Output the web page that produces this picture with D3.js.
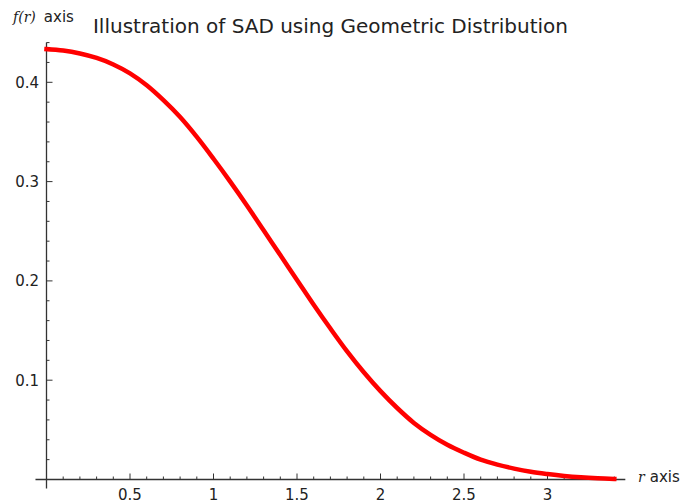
<!DOCTYPE html>
<html>
<head>
<meta charset="utf-8">
<script src="https://cdn.jsdelivr.net/npm/d3@7"></script>
<style>
  body { margin: 0; background: #fff; }
  svg text { font-family: "DejaVu Sans", sans-serif; fill: #222; }
</style>
</head>
<body>
<div id="chart"></div>
<script>
// values
var rValues = [0, 0.1, 0.2, 0.3, 0.4, 0.5, 0.6, 0.7, 0.8, 0.9, 1.0,
    1.1, 1.2, 1.3, 1.4, 1.5, 1.6, 1.7, 1.8, 1.9, 2.0,
    2.1, 2.2, 2.3, 2.4, 2.5, 2.6, 2.7, 2.8, 2.9, 3.0,
    3.1, 3.2, 3.3, 3.4];
var fValues = [0.4335, 0.432, 0.429, 0.4245, 0.418, 0.409, 0.397, 0.382, 0.365, 0.345, 0.323,
    0.300, 0.276, 0.251, 0.226, 0.201, 0.176, 0.152, 0.129, 0.108, 0.089,
    0.072, 0.057, 0.045, 0.035, 0.027, 0.020, 0.015, 0.011, 0.0078, 0.0055,
    0.0036, 0.0022, 0.0012, 0.0005];
var xTickValues = [0.5, 1, 1.5, 2, 2.5, 3];
var xTickLabels = ["0.5", "1", "1.5", "2", "2.5", "3"];
var yTickValues = [0.1, 0.2, 0.3, 0.4];
var yTickLabels = ["0.1", "0.2", "0.3", "0.4"];
var titleText = "Illustration of SAD using Geometric Distribution";

(function(){
    'use strict';
    var width = 684, height = 503;

    var svg = d3.select("#chart").append("svg")
        .attr("width", width)
        .attr("height", height);

    /* scales: 1 unit of r is ~167px, 0.1 of f is ~99px */
    var x = d3.scaleLinear().domain([0, 3.5]).range([46.5, 46.5 + 3.5 * 167]);
    var y = d3.scaleLinear().domain([0, 0.44]).range([479.5, 479.5 - 0.44 * 993]);

    var axisColor = "#333";

    // x axis line (sage style, runs a bit past the origin)
    svg.append("line")
        .attr("x1", x(-0.066)).attr("x2", x(3.466))
        .attr("y1", y(0)).attr("y2", y(0))
        .attr("stroke", axisColor).attr("stroke-width", 1.3);

    // y axis line
    svg.append("line")
        .attr("x1", x(0)).attr("x2", x(0))
        .attr("y1", y(-0.009)).attr("y2", y(0.44))
        .attr("stroke", axisColor).attr("stroke-width", 1.3);

    var xMinor = d3.range(1, 35).map(function(i) { return i / 10; })
        .filter(function(v) { return Math.abs(v * 2 - Math.round(v * 2)) > 1e-6; });
    var yMinor = d3.range(1, 23).map(function(i) { return i / 50; })
        .filter(function(v) { return Math.abs(v * 10 - Math.round(v * 10)) > 1e-6; });

    svg.append("g").selectAll("line").data(xMinor).enter().append("line")
        .attr("x1", function(d) { return x(d); })
        .attr("x2", function(d) { return x(d); })
        .attr("y1", y(0)).attr("y2", y(0) - 3)
        .attr("stroke", axisColor).attr("stroke-width", 1);

    svg.append("g").selectAll("line").data(xTickValues).enter().append("line")
        .attr("x1", function(d) { return x(d); })
        .attr("x2", function(d) { return x(d); })
        .attr("y1", y(0)).attr("y2", y(0) - 6)
        .attr("stroke", axisColor).attr("stroke-width", 1);

    svg.append("g").selectAll("line").data(yMinor).enter().append("line")
        .attr("x1", x(0)).attr("x2", x(0) + 3)
        .attr("y1", function(d) { return y(d); })
        .attr("y2", function(d) { return y(d); })
        .attr("stroke", axisColor).attr("stroke-width", 1);

    svg.append("g").selectAll("line").data(yTickValues).enter().append("line")
        .attr("x1", x(0)).attr("x2", x(0) + 6)
        .attr("y1", function(d) { return y(d); })
        .attr("y2", function(d) { return y(d); })
        .attr("stroke", axisColor).attr("stroke-width", 1);

    // tick labels
    svg.append("g").selectAll("text").data(xTickValues).enter().append("text")
        .attr("x", function(d) { return x(d); })
        .attr("y", 500)
        .attr("text-anchor", "middle")
        .attr("font-size", "15px")
        .text(function(d, i) { return xTickLabels[i]; });

    svg.append("g").selectAll("text").data(yTickValues).enter().append("text")
        .attr("x", 39)
        .attr("y", function(d) { return y(d) + 5.5; })
        .attr("text-anchor", "end")
        .attr("font-size", "15px")
        .text(function(d, i) { return yTickLabels[i]; });

    // the curve
    var points = rValues.map(function(r, i) { return [r, fValues[i]]; });
    var line = d3.line()
        .x(function(d) { return x(d[0]); })
        .y(function(d) { return y(d[1]); })
        .curve(d3.curveCatmullRom);

    svg.append("path")
        .datum(points)
        .attr("d", line)
        .attr("fill", "none")
        .attr("stroke", "#ff0000")
        .attr("stroke-width", 4.5)
        .attr("stroke-linecap", "square");

    // axis labels
    var yLab = svg.append("text").attr("x", 13).attr("y", 22).attr("font-size", "15px");
    yLab.append("tspan")
        .attr("font-family", "'DejaVu Serif', serif")
        .attr("font-style", "italic")
        .attr("font-size", "14px")
        .text("f(r)");
    yLab.append("tspan").attr("dx", 8).text("axis");

    var xLab = svg.append("text").attr("x", 638).attr("y", 482).attr("font-size", "15px");
    xLab.append("tspan")
        .attr("font-family", "'DejaVu Serif', serif")
        .attr("font-style", "italic")
        .attr("font-size", "14px")
        .text("r");
    xLab.append("tspan").attr("dx", 5).text("axis");

    // title
    svg.append("text")
        .attr("x", 330.5)
        .attr("y", 33)
        .attr("text-anchor", "middle")
        .attr("font-size", "20px")
        .text(titleText);
}());
</script>
</body>
</html>
